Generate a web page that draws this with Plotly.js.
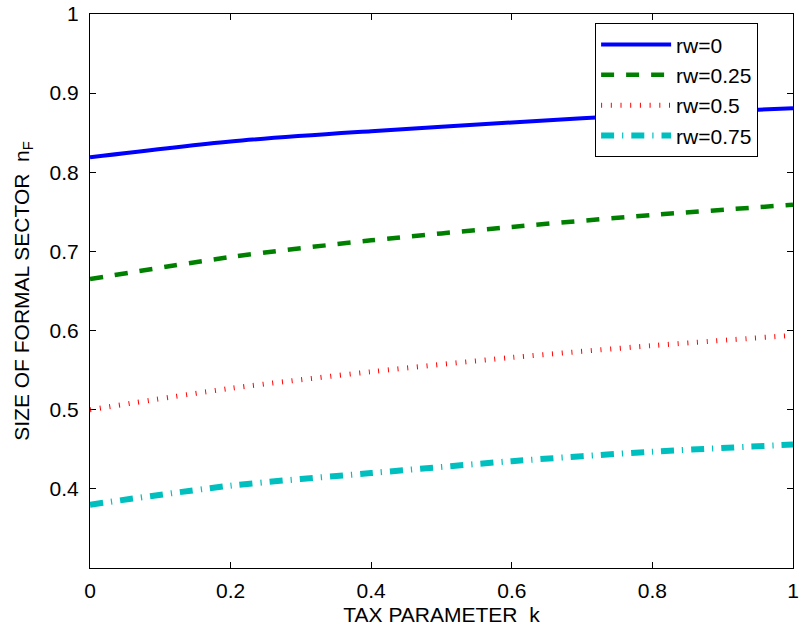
<!DOCTYPE html>
<html>
<head>
<meta charset="utf-8">
<script src="https://cdn.plot.ly/plotly-3.0.1.min.js"></script>
<style>html,body{margin:0;padding:0;background:#fff;}#chart{width:799px;height:630px;}</style>
</head>
<body>
<div id="chart"></div>
<script>
const k = [0, 0.2, 0.4, 0.6, 0.8, 1.0];
const rw0 = [0.819, 0.839, 0.852, 0.863, 0.873, 0.881];
const rw025 = [0.665, 0.693, 0.714, 0.731, 0.746, 0.759];
const rw05 = [0.500, 0.527, 0.548, 0.566, 0.581, 0.594];
const rw075 = [0.380, 0.404, 0.420, 0.435, 0.447, 0.456];
const names = ['rw=0', 'rw=0.25', 'rw=0.5', 'rw=0.75'];
const xTicks = [0, 0.2, 0.4, 0.6, 0.8, 1];
const xTickText = ['0', '0.2', '0.4', '0.6', '0.8', '1'];
const yTicks = [0.4, 0.5, 0.6, 0.7, 0.8, 0.9, 1];
const yTickText = ['0.4', '0.5', '0.6', '0.7', '0.8', '0.9', '1'];

const ff = '"Liberation Sans", Arial, sans-serif';
const font = {family: ff, size: 21, color: '#000'};
const legFont = {family: ff, size: 21, color: '#000'};
const traces = [
  {x: k, y: rw0, name: names[0], mode: 'lines', line: {color: '#0000FF', width: 4, shape: 'spline', smoothing: 0.8}},
  {x: k, y: rw025, name: names[1], mode: 'lines', line: {color: '#008000', width: 4.5, dash: '13px,12px', shape: 'spline', smoothing: 0.8}},
  {x: k, y: rw05, name: names[2], mode: 'lines', line: {color: '#FF0000', width: 5, dash: '1px,8.7px', shape: 'spline', smoothing: 0.8}},
  {x: k, y: rw075, name: names[3], mode: 'lines', line: {color: '#00BFBF', width: 6, dash: '13px,8px,1.2px,8px', shape: 'spline', smoothing: 0.8}}
];
const axisCommon = {
  showgrid: false, zeroline: false, showline: true, linecolor: '#000', linewidth: 1,
  mirror: 'ticks', ticks: 'inside', ticklen: 6, tickcolor: '#000', tickwidth: 1,
  tickfont: font
};
const layout = {
  width: 799, height: 630,
  margin: {l: 90, r: 6, t: 14, b: 62},
  paper_bgcolor: '#fff', plot_bgcolor: '#fff',
  font: font,
  showlegend: true,
  legend: {x: 0.7185, y: 0.983, xanchor: 'left', yanchor: 'top', bgcolor: '#fff',
           bordercolor: '#000', borderwidth: 1, font: legFont, itemwidth: 70, tracegroupgap: 0},
  xaxis: Object.assign({}, axisCommon, {range: [0, 1], tickvals: xTicks, ticktext: xTickText,
          ticklabelstandoff: 4,
          title: {text: 'TAX PARAMETER&nbsp; k', font: font, standoff: 6}}),
  yaxis: Object.assign({}, axisCommon, {range: [0.3, 1], tickvals: yTicks, ticktext: yTickText,
          ticklabelstandoff: 6,
          title: {text: 'SIZE OF FORMAL SECTOR&nbsp; n<sub>F</sub>', font: font, standoff: 14}})
};
Plotly.newPlot('chart', traces, layout, {staticPlot: true, displayModeBar: false});
</script>
</body>
</html>
